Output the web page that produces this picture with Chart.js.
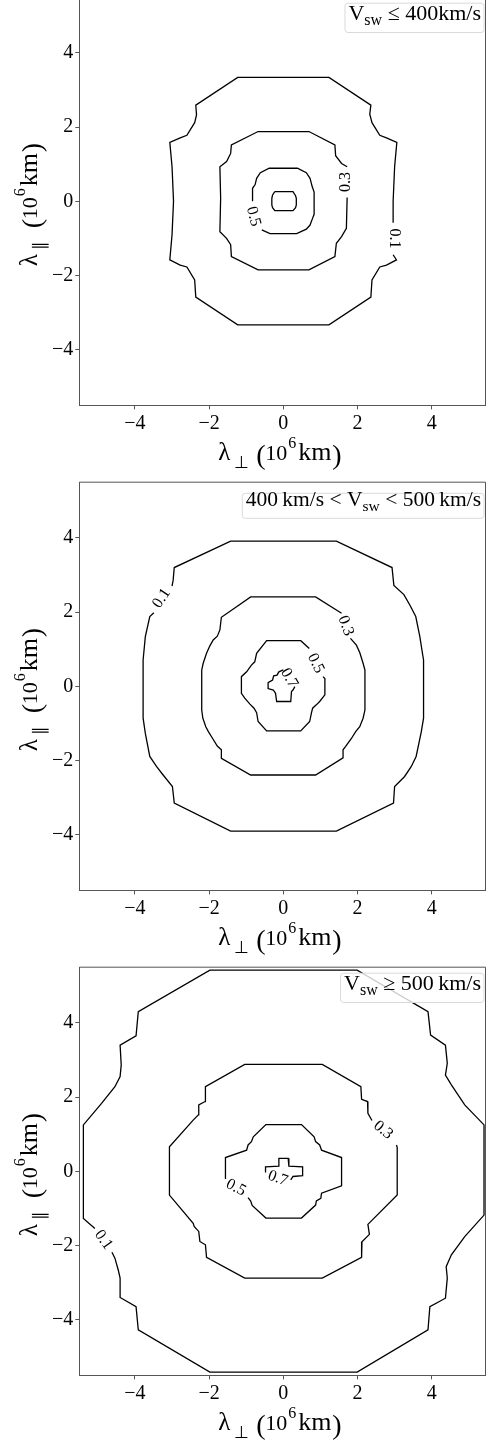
<!DOCTYPE html>
<html>
<head>
<meta charset="utf-8">
<script src="https://cdn.jsdelivr.net/npm/chart.js@4.4.1/dist/chart.umd.min.js"></script>
<style>
html, body { margin: 0; padding: 0; background: #fff; overflow: hidden; }
#wrap { width: 486px; height: 1443px; overflow: hidden; }
canvas { display: block; }
#c1 { margin-top: -8px; }
</style>
</head>
<body>
<div id="wrap">
<canvas id="c1" width="486" height="485"></canvas>
<canvas id="c2" width="486" height="485"></canvas>
<canvas id="c3" width="486" height="485"></canvas>
</div>
<script>
var FONT = "'Liberation Serif', 'Times New Roman', serif";
var SPINE = '#555';

var tickValues = [-4, -2, 0, 2, 4];
var levels = ['0.1', '0.3', '0.5', '0.7'];

// Vsw <= 400 km/s  (contours are open where the inline label sits)
var slow01 = [[2.96,-1.44],[3.05,-1.58],[2.78,-1.72],[2.60,-1.77],[2.39,-2.12],[2.36,-2.58],[1.23,-3.33],[-1.23,-3.33],[-2.36,-2.58],[-2.39,-2.12],[-2.60,-1.77],[-2.78,-1.72],[-3.06,-1.58],[-3.00,-0.90],[-2.96,0.00],[-3.00,0.93],[-3.06,1.59],[-2.78,1.71],[-2.60,1.78],[-2.39,2.12],[-2.34,2.33],[-2.36,2.59],[-1.23,3.34],[1.23,3.34],[2.36,2.59],[2.33,2.35],[2.39,2.12],[2.60,1.78],[2.78,1.71],[3.06,1.59],[3.00,0.93],[2.96,0.00],[2.96,-0.58]];
var slow03 = [[1.72,0.10],[1.70,-0.73],[1.57,-0.95],[1.43,-1.13],[1.39,-1.49],[0.69,-1.85],[-0.68,-1.85],[-1.40,-1.49],[-1.42,-1.17],[-1.53,-1.00],[-1.71,-0.82],[-1.69,0.08],[-1.71,0.93],[-1.53,1.07],[-1.42,1.29],[-1.40,1.52],[-0.68,1.88],[0.69,1.88],[1.39,1.52],[1.41,1.23],[1.57,1.02],[1.72,0.93]];
var slow05 = [[-0.58,-0.77],[-0.36,-0.87],[0.36,-0.87],[0.62,-0.75],[0.72,-0.64],[0.78,-0.48],[0.83,-0.35],[0.83,0.25],[0.78,0.39],[0.72,0.62],[0.62,0.77],[0.38,0.89],[-0.38,0.89],[-0.62,0.77],[-0.72,0.62],[-0.76,0.45],[-0.83,0.35],[-0.83,0.00]];
var slow07 = [[-0.23,0.26],[0.26,0.26],[0.33,0.15],[0.35,0.08],[0.35,-0.10],[0.33,-0.17],[0.26,-0.25],[-0.23,-0.25],[-0.29,-0.17],[-0.31,-0.10],[-0.31,0.08],[-0.29,0.17],[-0.23,0.26]];
var slowLabels = [
    { text: '0.1', x: 3.00, y: -1.00, angle: 90 },
    { text: '0.3', x: 1.68, y: 0.52, angle: -90 },
    { text: '0.5', x: -0.81, y: -0.41, angle: 75 }
];

// 400 km/s < Vsw < 500 km/s
var mid01 = [[-3.00,2.70],[-2.97,2.86],[-2.94,3.20],[-1.42,3.91],[1.43,3.91],[2.93,3.20],[2.98,2.72],[3.25,2.47],[3.41,2.19],[3.57,1.88],[3.68,1.34],[3.75,0.89],[3.78,0.71],[3.78,-0.86],[3.72,-1.22],[3.58,-1.89],[3.45,-2.16],[3.27,-2.43],[3.00,-2.70],[2.97,-3.15],[1.43,-3.90],[-1.42,-3.90],[-2.94,-3.15],[-2.99,-2.70],[-3.24,-2.39],[-3.42,-2.16],[-3.60,-1.89],[-3.72,-1.27],[-3.78,-0.86],[-3.78,0.71],[-3.72,1.34],[-3.60,1.88],[-3.49,1.98]];
var mid03 = [[1.81,1.29],[1.97,1.11],[2.06,0.91],[2.15,0.62],[2.20,0.44],[2.20,-0.64],[2.15,-0.86],[2.06,-1.09],[1.95,-1.22],[1.84,-1.40],[1.68,-1.62],[1.61,-1.71],[1.61,-1.93],[0.87,-2.39],[-0.88,-2.39],[-1.67,-1.94],[-1.67,-1.71],[-1.78,-1.61],[-1.91,-1.40],[-2.02,-1.22],[-2.09,-1.09],[-2.17,-0.86],[-2.20,-0.64],[-2.20,0.44],[-2.16,0.62],[-2.07,0.89],[-1.98,1.09],[-1.89,1.25],[-1.78,1.35],[-1.71,1.52],[-1.67,1.86],[-0.88,2.41],[0.87,2.41],[1.57,1.97]];
var mid05 = [[1.07,0.26],[1.12,0.21],[1.12,-0.23],[0.98,-0.41],[0.89,-0.50],[0.79,-0.59],[0.76,-0.71],[0.71,-0.95],[0.47,-1.20],[-0.45,-1.20],[-0.68,-0.95],[-0.72,-0.71],[-0.79,-0.59],[-0.90,-0.48],[-1.04,-0.32],[-1.13,-0.19],[-1.13,0.26],[-0.99,0.39],[-0.86,0.57],[-0.77,0.66],[-0.72,0.89],[-0.45,1.23],[0.47,1.23],[0.70,1.02]];
var mid07 = [[0.31,-0.01],[0.26,-0.10],[0.22,-0.14],[0.20,-0.41],[-0.18,-0.41],[-0.21,-0.19],[-0.27,-0.10],[-0.41,-0.06],[-0.41,0.10],[-0.29,0.17],[-0.26,0.28],[-0.17,0.30],[-0.12,0.39],[0.00,0.44]];
var midLabels = [
    { text: '0.1', x: -3.28, y: 2.37, angle: -56 },
    { text: '0.3', x: 1.68, y: 1.63, angle: 70 },
    { text: '0.5', x: 0.87, y: 0.62, angle: 64 },
    { text: '0.7', x: 0.16, y: 0.22, angle: 60 }
];

// Vsw >= 500 km/s
var fast01 = [[-4.62,-2.18],[-4.54,-2.34],[-4.45,-2.66],[-4.40,-2.88],[-4.40,-3.40],[-3.97,-3.65],[-3.91,-4.27],[-1.98,-5.41],[1.99,-5.41],[3.90,-4.27],[3.95,-3.65],[4.37,-3.42],[4.42,-2.88],[4.39,-2.57],[4.53,-2.25],[4.89,-1.76],[5.41,-1.18],[5.41,1.25],[4.89,1.79],[4.53,2.33],[4.37,2.59],[4.42,2.91],[4.37,3.40],[3.97,3.67],[3.90,4.30],[1.99,5.42],[-1.98,5.42],[-3.91,4.30],[-3.97,3.65],[-4.40,3.40],[-4.37,2.86],[-4.40,2.55],[-4.54,2.28],[-4.90,1.83],[-5.39,1.25],[-5.39,-1.27],[-5.08,-1.54]];
var fast03 = [[3.05,0.71],[3.07,0.64],[3.07,-0.64],[2.28,-1.43],[2.32,-1.70],[2.12,-1.90],[2.11,-2.32],[1.05,-2.88],[-1.04,-2.88],[-2.07,-2.32],[-2.10,-1.98],[-2.25,-1.89],[-2.28,-1.62],[-2.40,-1.49],[-2.43,-1.40],[-3.07,-0.64],[-3.07,0.66],[-2.43,1.38],[-2.29,1.52],[-2.28,1.79],[-2.11,1.88],[-2.10,2.28],[-1.04,2.88],[1.05,2.88],[2.09,2.28],[2.11,1.94],[2.27,1.88],[2.28,1.56],[2.39,1.37]];
var fast05 = [[-1.56,-0.21],[-1.56,0.37],[-0.99,0.57],[-0.95,0.71],[-0.86,0.80],[-0.81,0.93],[-0.47,1.26],[0.49,1.26],[0.83,0.93],[0.87,0.80],[0.98,0.71],[1.03,0.57],[1.57,0.37],[1.57,-0.39],[1.03,-0.59],[1.01,-0.73],[0.89,-0.80],[0.87,-0.91],[0.49,-1.26],[-0.47,-1.26],[-0.84,-0.92],[-0.88,-0.80],[-0.95,-0.71]];
var fast07 = [[-0.48,-0.03],[-0.48,0.12],[-0.12,0.14],[-0.12,0.35],[0.13,0.35],[0.15,0.14],[0.52,0.12],[0.52,-0.12],[0.26,-0.14],[0.20,-0.23]];
var fastLabels = [
    { text: '0.1', x: -4.85, y: -1.85, angle: 54 },
    { text: '0.3', x: 2.69, y: 1.11, angle: 40 },
    { text: '0.5', x: -1.28, y: -0.44, angle: 28 },
    { text: '0.7', x: -0.15, y: -0.19, angle: 20 }
];

function fmtTick(v) {
    return v < 0 ? '\u2212' + Math.abs(v) : String(v);
}

// axis title pieces, offsets in px from the start of the title
function titleParts(sub) {
    return [
        { t: '\u03bb', size: 25, dx: 0 },
        { t: sub, size: 17, dx: 16, dy: 8 },
        { t: '(', size: 28, dx: 38, dy: 4 },
        { t: '10', size: 22, dx: 47 },
        { t: '6', size: 16, dx: 70, dy: -12 },
        { t: 'km', size: 26, dx: 80 },
        { t: ')', size: 28, dx: 114, dy: 4 }
    ];
}

function drawParts(ctx, parts, x, y) {
    parts.forEach(function(p) {
        ctx.font = p.size + 'px ' + FONT;
        ctx.fillText(p.t, x + (p.dx || 0), y + (p.dy || 0));
    });
}

function seqWidth(ctx, parts) {
    var w = 0;
    parts.forEach(function(p) {
        ctx.font = p.size + 'px ' + FONT;
        w += ctx.measureText(p.t).width;
    });
    return w;
}

function drawSeq(ctx, parts, x, y) {
    parts.forEach(function(p) {
        ctx.font = p.size + 'px ' + FONT;
        ctx.fillText(p.t, x, y + (p.dy || 0));
        x += ctx.measureText(p.t).width;
    });
}

function roundBox(ctx, x, y, w, h, r) {
    ctx.beginPath();
    ctx.moveTo(x + r, y);
    ctx.lineTo(x + w - r, y);
    ctx.arcTo(x + w, y, x + w, y + r, r);
    ctx.lineTo(x + w, y + h - r);
    ctx.arcTo(x + w, y + h, x + w - r, y + h, r);
    ctx.lineTo(x + r, y + h);
    ctx.arcTo(x, y + h, x, y + h - r, r);
    ctx.lineTo(x, y + r);
    ctx.arcTo(x, y, x + r, y, r);
    ctx.closePath();
}

var decor = {
    id: 'decor',
    afterDatasetsDraw: function(chart, args, opts) {
        var ctx = chart.ctx, xs = chart.scales.x, ys = chart.scales.y, ca = chart.chartArea;
        ctx.save();
        // inline contour labels
        ctx.fillStyle = '#000';
        ctx.textAlign = 'center';
        ctx.textBaseline = 'middle';
        ctx.font = '16px ' + FONT;
        opts.labels.forEach(function(l) {
            ctx.save();
            ctx.translate(xs.getPixelForValue(l.x), ys.getPixelForValue(l.y));
            ctx.rotate(l.angle * Math.PI / 180);
            ctx.fillText(l.text, 0, 0);
            ctx.restore();
        });
        // legend-like box in the upper right
        ctx.textAlign = 'left';
        ctx.textBaseline = 'alphabetic';
        var b = opts.box;
        var textRight = ca.right - 4.5;
        var textLeft = textRight - seqWidth(ctx, opts.legend);
        var bx = textLeft - 3.5;
        roundBox(ctx, bx, ca.top + b.top, ca.right - 1.5 - bx, b.bottom - b.top, 3);
        ctx.fillStyle = 'rgba(255,255,255,0.8)';
        ctx.fill();
        ctx.strokeStyle = '#dadada';
        ctx.lineWidth = 1;
        ctx.stroke();
        ctx.fillStyle = '#000';
        drawSeq(ctx, opts.legend, textLeft, ca.top + b.base);
        ctx.restore();
    },
    afterDraw: function(chart) {
        var ctx = chart.ctx, ca = chart.chartArea, xs = chart.scales.x, ys = chart.scales.y;
        ctx.save();
        ctx.strokeStyle = SPINE;
        ctx.lineWidth = 1;
        ctx.beginPath();
        ctx.moveTo(ca.left, ca.top);
        ctx.lineTo(ca.right, ca.top);
        ctx.lineTo(ca.right, ca.bottom);
        ctx.stroke();
        ctx.fillStyle = '#000';
        ctx.textAlign = 'left';
        ctx.textBaseline = 'alphabetic';
        drawParts(ctx, titleParts('\u22a5'), xs.getPixelForValue(0) - 65, ca.bottom + 54.6);
        ctx.translate(ca.left - 42.6, ys.getPixelForValue(0) + 65);
        ctx.rotate(-Math.PI / 2);
        drawParts(ctx, titleParts('\u2225'), 0, 0);
        ctx.restore();
    }
};

function axisOpts(min, max, fit) {
    return {
        type: 'linear',
        min: min,
        max: max,
        afterBuildTicks: function(s) { s.ticks = tickValues.map(function(v) { return { value: v }; }); },
        afterFit: function(s) {
            fit(s);
            s.paddingTop = 0; s.paddingBottom = 0;
            s.paddingLeft = 0; s.paddingRight = 0;
        },
        grid: { drawOnChartArea: false, drawTicks: true, tickLength: 4, color: SPINE, tickColor: SPINE },
        border: { display: true, color: SPINE, width: 1 },
        ticks: {
            font: { family: FONT, size: 20 },
            color: '#000',
            padding: 2,
            maxRotation: 0,
            autoSkip: false,
            callback: fmtTick
        }
    };
}

function makePanel(id, contours, labels, legend, box) {
    var ctx = document.getElementById(id).getContext('2d');
    return new Chart(ctx, {
        type: 'scatter',
        data: {
            datasets: contours.map(function(pts, i) {
                return {
                    label: levels[i],
                    data: pts.map(function(p) { return { x: p[0], y: p[1] }; }),
                    showLine: true,
                    borderColor: '#000',
                    borderWidth: 1.3,
                    pointRadius: 0,
                    fill: false,
                    tension: 0
                };
            })
        },
        plugins: [decor],
        options: {
            responsive: false,
            animation: false,
            devicePixelRatio: 1,
            events: [],
            layout: { padding: { top: 5.2, right: 0.5, bottom: 0, left: 0 } },
            scales: {
                x: axisOpts(-5.5, 5.45, function(s) { s.height = 71.6; }),
                y: axisOpts(-5.5, 5.5, function(s) { s.width = 79.3; })
            },
            plugins: {
                legend: { display: false },
                tooltip: { enabled: false },
                decor: { labels: labels, legend: legend, box: box }
            }
        }
    });
}

makePanel('c1', [slow01, slow03, slow05, slow07], slowLabels,
    [{ t: 'V', size: 22 }, { t: 'sw', size: 16, dy: 5 }, { t: ' \u2264 400km/s', size: 22 }],
    { top: 6, bottom: 35.3, base: 22.8 });

makePanel('c2', [mid01, mid03, mid05, mid07], midLabels,
    [{ t: '400\u2009km/s < V', size: 21.5 }, { t: 'sw', size: 15.5, dy: 5 }, { t: ' < 500\u2009km/s', size: 21.5 }],
    { top: 11.1, bottom: 36.1, base: 23.8 });

makePanel('c3', [fast01, fast03, fast05, fast07], fastLabels,
    [{ t: 'V', size: 22 }, { t: 'sw', size: 16, dy: 5 }, { t: ' \u2265 500\u2009km/s', size: 22 }],
    { top: 6, bottom: 35.3, base: 22.8 });
</script>
</body>
</html>
